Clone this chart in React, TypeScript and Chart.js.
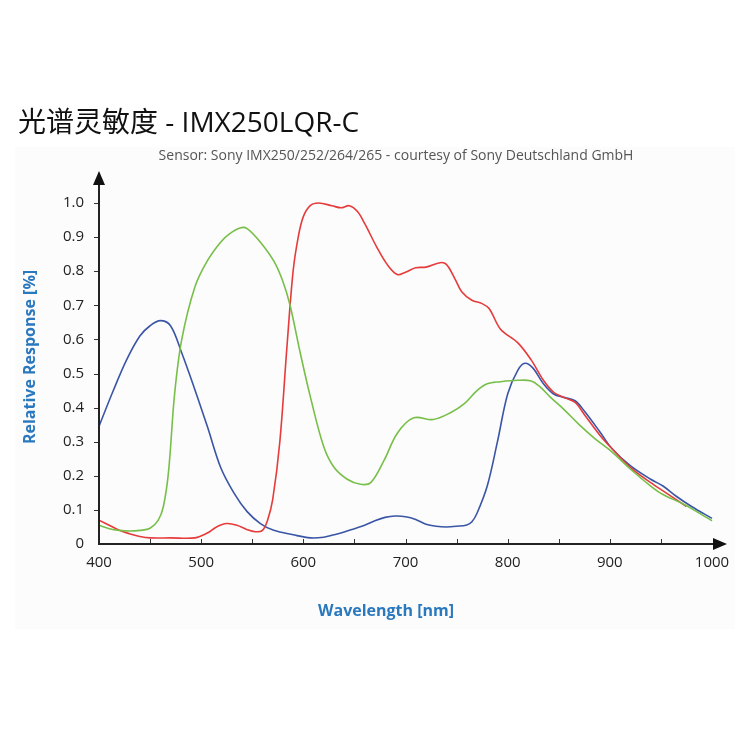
import React, { useEffect, useRef } from "react";
import { Chart, registerables } from "chart.js";

Chart.register(...registerables);

const TITLE = "光谱灵敏度 - IMX250LQR-C";
const SUBTITLE = "Sensor: Sony IMX250/252/264/265 - courtesy of Sony Deutschland GmbH";
const X_TITLE = "Wavelength [nm]";
const Y_TITLE = "Relative Response [%]";

const X_TICKS = [400, 500, 600, 700, 800, 900, 1000];
const X_MINOR = [450, 500, 550, 600, 650, 700, 750, 800, 850, 900, 950];
const Y_TICKS = [0, 0.1, 0.2, 0.3, 0.4, 0.5, 0.6, 0.7, 0.8, 0.9, 1.0];

const blueNm = [400, 414, 427, 440, 450, 460, 470, 481, 493, 506, 519, 532, 545, 558, 571, 590, 607, 620, 630, 640, 650, 660, 670, 680, 690, 700, 710, 720, 730, 740, 750, 760, 765, 770, 780, 790, 800, 810, 817, 825, 835, 845, 855, 866, 875, 890, 902, 920, 940, 952, 965, 980, 1000];
const blueVal = [0.345, 0.45, 0.54, 0.61, 0.64, 0.655, 0.64, 0.56, 0.46, 0.345, 0.225, 0.15, 0.095, 0.06, 0.04, 0.027, 0.018, 0.02, 0.027, 0.035, 0.045, 0.055, 0.068, 0.078, 0.082, 0.08, 0.072, 0.058, 0.052, 0.05, 0.052, 0.056, 0.065, 0.09, 0.17, 0.3, 0.44, 0.51, 0.53, 0.515, 0.47, 0.44, 0.43, 0.42, 0.39, 0.33, 0.28, 0.23, 0.19, 0.17, 0.14, 0.11, 0.075];

const redNm = [400, 410, 420, 430, 440, 450, 470, 494, 506, 515, 525, 535, 545, 553, 560, 565, 570, 577, 584, 590, 595, 600, 607, 615, 628, 637, 645, 653, 660, 672, 682, 692, 700, 710, 720, 734, 740, 748, 755, 765, 775, 782, 793, 810, 823, 835, 845, 855, 866, 875, 890, 902, 920, 940, 955, 975];
const redVal = [0.07, 0.055, 0.04, 0.03, 0.022, 0.018, 0.018, 0.018, 0.032, 0.05, 0.06, 0.055, 0.042, 0.036, 0.04, 0.07, 0.13, 0.3, 0.58, 0.8, 0.9, 0.96, 0.993, 1.0, 0.992, 0.986, 0.992, 0.975, 0.94, 0.87, 0.82, 0.79, 0.797, 0.81, 0.812, 0.825, 0.82, 0.78, 0.74, 0.715, 0.705, 0.69, 0.63, 0.59, 0.54, 0.48, 0.445, 0.43, 0.415, 0.38, 0.32, 0.28, 0.225, 0.18, 0.15, 0.11];

const greenNm = [400, 410, 420, 430, 440, 450, 458, 463, 468, 474, 481, 494, 506, 519, 528, 538, 545, 558, 571, 580, 587, 597, 607, 620, 630, 643, 656, 666, 679, 692, 708, 727, 744, 757, 770, 780, 793, 810, 823, 832, 842, 855, 870, 885, 902, 920, 940, 952, 970, 985, 1000];
const greenVal = [0.055, 0.045, 0.04, 0.038, 0.04, 0.046, 0.07, 0.11, 0.21, 0.44, 0.6, 0.755, 0.83, 0.885, 0.91, 0.927, 0.925, 0.885, 0.83, 0.77, 0.7, 0.56, 0.43, 0.285, 0.225, 0.19, 0.175, 0.18, 0.245, 0.325, 0.37, 0.365, 0.385, 0.41, 0.45, 0.47, 0.476, 0.48, 0.478, 0.46, 0.43, 0.395, 0.35, 0.31, 0.27, 0.22, 0.17, 0.145, 0.12, 0.095, 0.068];

const toPoints = (xs: number[], ys: number[]) => xs.map((x, i) => ({ x, y: ys[i] }));

const decorPlugin = {
  id: "decor",
  beforeDraw(chart: any) {
    const ctx = chart.ctx;
    ctx.save();
    ctx.fillStyle = "#fcfcfc";
    ctx.fillRect(15, 147, 720, 482);
    ctx.restore();
  },
  afterDraw(chart: any) {
    const ctx = chart.ctx;
    const xs = chart.scales.x;
    const ys = chart.scales.y;
    const left = xs.getPixelForValue(400);
    const bottom = ys.getPixelForValue(0);
    ctx.save();
    // Title
    ctx.fillStyle = "#111";
    ctx.font = "28px 'Open Sans', 'Noto Sans CJK SC', sans-serif";
    ctx.textAlign = "left";
    ctx.textBaseline = "middle";
    ctx.fillText(TITLE, 18, 124);
    // Subtitle
    ctx.fillStyle = "#555";
    ctx.font = "14px 'Open Sans', sans-serif";
    ctx.textAlign = "center";
    ctx.fillText(SUBTITLE, 396, 156);
    // Axes
    ctx.strokeStyle = "#222";
    ctx.fillStyle = "#111";
    ctx.lineWidth = 2;
    ctx.beginPath();
    ctx.moveTo(left, bottom);
    ctx.lineTo(left, 184);
    ctx.moveTo(left - 1, bottom);
    ctx.lineTo(714, bottom);
    ctx.stroke();
    // arrows
    ctx.beginPath();
    ctx.moveTo(left, 171);
    ctx.lineTo(left - 6, 185);
    ctx.lineTo(left + 6, 185);
    ctx.closePath();
    ctx.fill();
    ctx.beginPath();
    ctx.moveTo(727, bottom);
    ctx.lineTo(713, bottom - 6);
    ctx.lineTo(713, bottom + 6);
    ctx.closePath();
    ctx.fill();
    // tick marks
    ctx.lineWidth = 1;
    ctx.strokeStyle = "#333";
    ctx.beginPath();
    X_MINOR.forEach((v) => {
      const px = Math.round(xs.getPixelForValue(v)) + 0.5;
      ctx.moveTo(px, bottom - 1);
      ctx.lineTo(px, bottom - 5);
    });
    Y_TICKS.slice(1).forEach((v) => {
      const py = Math.round(ys.getPixelForValue(v)) + 0.5;
      ctx.moveTo(left - 1, py);
      ctx.lineTo(left - 5, py);
    });
    ctx.stroke();
    // Axis titles
    ctx.fillStyle = "#2a78be";
    ctx.font = "bold 16px 'Open Sans', sans-serif";
    ctx.textAlign = "center";
    ctx.textBaseline = "middle";
    ctx.fillText(X_TITLE, 386, 611);
    ctx.translate(30, 357);
    ctx.rotate(-Math.PI / 2);
    ctx.fillText(Y_TITLE, 0, 0);
    ctx.restore();
  },
};

export default function App() {
  const ref = useRef<HTMLCanvasElement>(null);
  useEffect(() => {
    if (!ref.current) return;
    const lineDs = (label: string, pts: any[], color: string) => ({
      label,
      data: pts,
      borderColor: color,
      backgroundColor: color,
      borderWidth: 1.6,
      pointRadius: 0,
      tension: 0.35,
      fill: false,
      clip: false as any,
    });
    const chart = new Chart(ref.current, {
      type: "line",
      data: {
        datasets: [
          lineDs("Green", toPoints(greenNm, greenVal), "#77bf48"),
          lineDs("Red", toPoints(redNm, redVal), "#e63b3b"),
          lineDs("Blue", toPoints(blueNm, blueVal), "#3a55a5"),
        ],
      },
      options: {
        responsive: false,
        animation: false,
        layout: { padding: { left: 40, right: 38, top: 203, bottom: 100 } },
        plugins: { legend: { display: false }, tooltip: { enabled: false }, title: { display: false } },
        scales: {
          x: {
            type: "linear",
            min: 400,
            max: 1000,
            afterBuildTicks: (s: any) => {
              s.ticks = X_TICKS.map((v) => ({ value: v }));
            },
            afterFit: (s: any) => {
              s.height = 106;
            },
            ticks: {
              autoSkip: false,
              maxRotation: 0,
              padding: 10,
              color: "#222",
              font: { family: "'Open Sans', sans-serif", size: 15 },
              callback: (v: any) => String(v),
            },
            grid: { display: false, drawTicks: false },
            border: { display: false },
          },
          y: {
            type: "linear",
            min: 0,
            max: 1,
            afterBuildTicks: (s: any) => {
              s.ticks = Y_TICKS.map((v) => ({ value: v }));
            },
            afterFit: (s: any) => {
              s.width = 59;
            },
            ticks: {
              padding: 15,
              color: "#222",
              font: { family: "'Open Sans', sans-serif", size: 15 },
              callback: (v: any) => (v === 0 ? "0" : Number(v).toFixed(1)),
            },
            grid: { display: false, drawTicks: false },
            border: { display: false },
          },
        },
      },
      plugins: [decorPlugin],
    });
    return () => chart.destroy();
  }, []);
  return (
    <div style={{ position: "absolute", left: 0, top: 0, width: 750, height: 750, background: "#fff" }}>
      <canvas ref={ref} width={750} height={750} style={{ width: 750, height: 750, display: "block" }} />
    </div>
  );
}
